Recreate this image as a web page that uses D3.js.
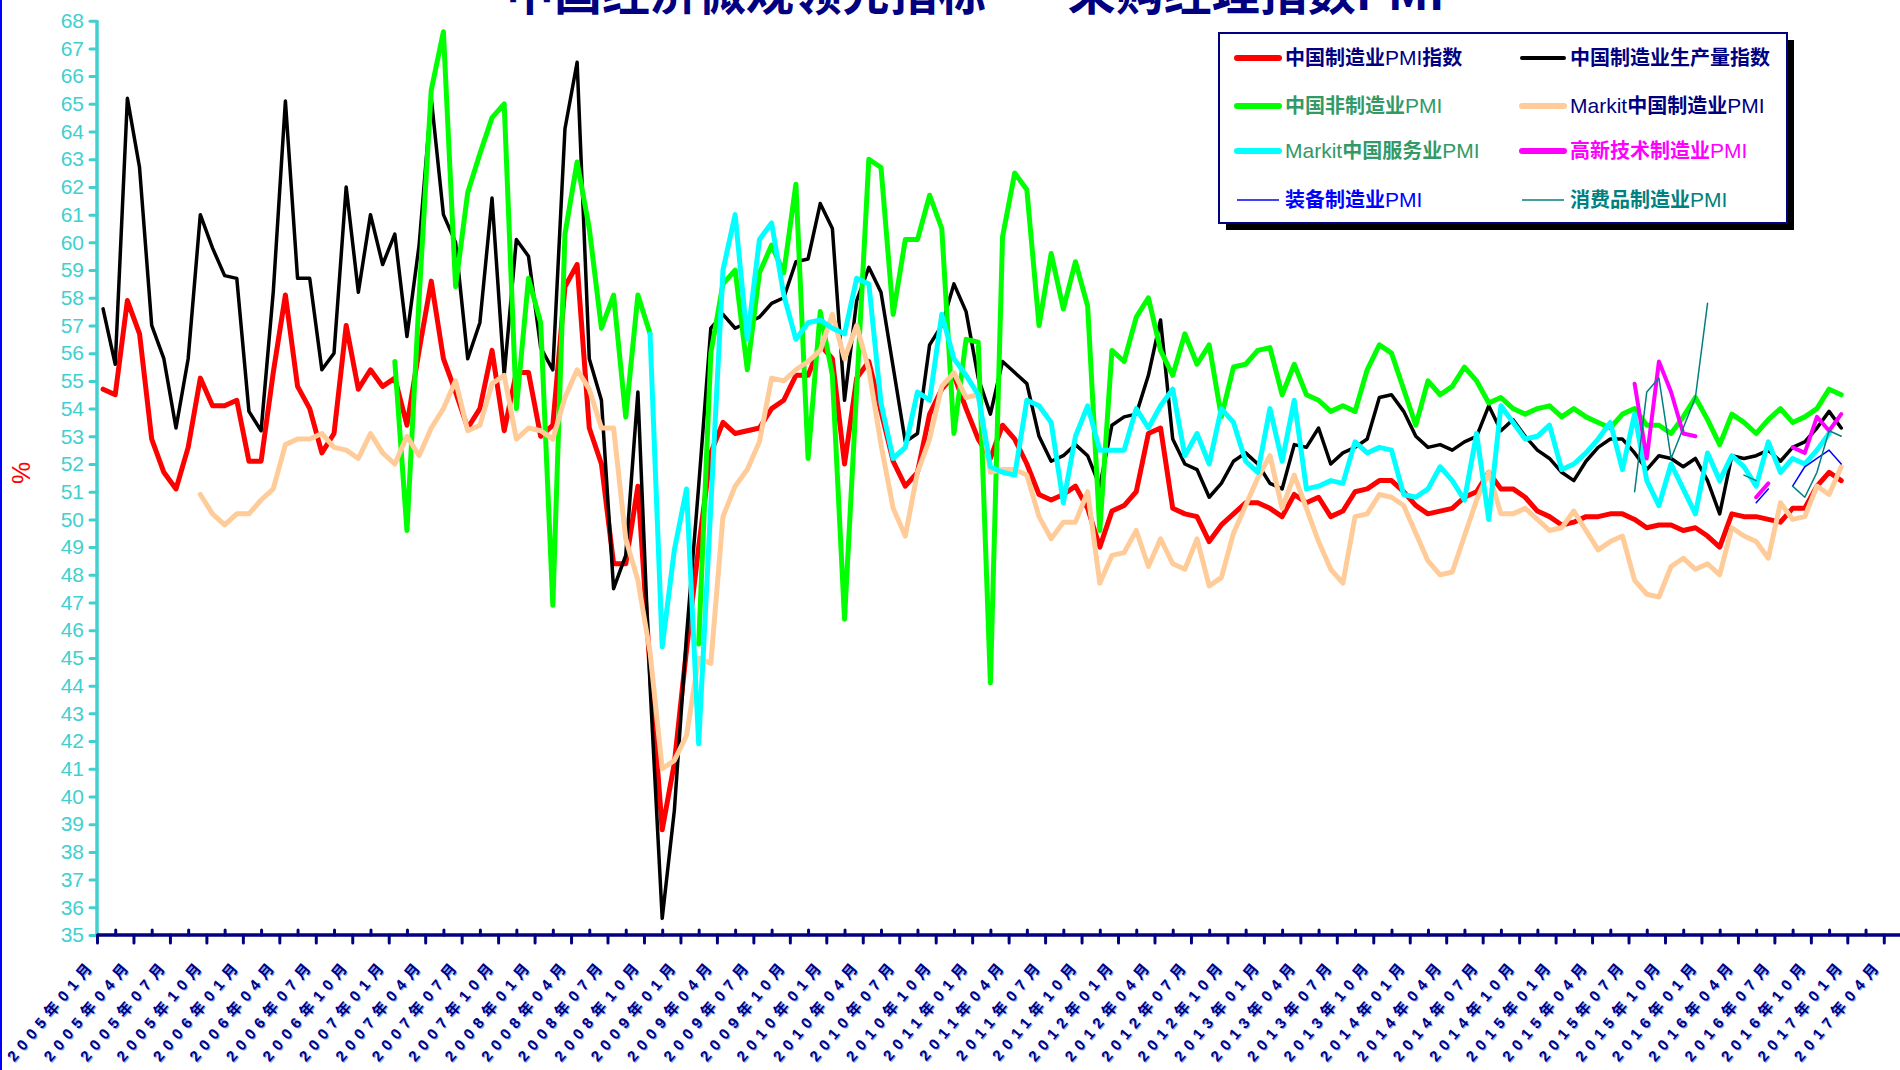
<!DOCTYPE html>
<html>
<head>
<meta charset="utf-8">
<script src="https://cdn.jsdelivr.net/npm/d3@7"></script>
<style>
  body { margin: 0; background: #fff; }
  svg { display: block; }
</style>
</head>
<body>
<svg id="chart" width="1900" height="1070"></svg>
<script>
// months on the category axis: 2005-01 .. 2017-04
const years = d3.range(2005, 2018);
const months = [];
years.forEach(y => d3.range(1, 13).forEach(m => {
  if (y < 2017 || m <= 4) months.push(y + "年" + (m < 10 ? "0" + m : m) + "月");
}));

// 中国制造业PMI指数 (from 2005-01)
const mfgPmi = [
  54.7, 54.5, 57.9, 56.7, 52.9, 51.7, 51.1, 52.6, 55.1, 54.1, 54.1, 54.3,
  52.1, 52.1, 55.3, 58.1, 54.8, 54.0, 52.4, 53.1, 57.0, 54.7, 55.4, 54.8,
  55.1, 53.4, 56.1, 58.6, 55.8, 54.6, 53.3, 54.0, 56.1, 53.2, 55.3, 55.3,
  53.0, 53.4, 58.4, 59.2, 53.3, 52.0, 48.4, 48.4, 51.2, 44.6, 38.8, 41.2,
  45.3, 49.0, 52.4, 53.5, 53.1, 53.2, 53.3, 54.0, 54.3, 55.2, 55.2, 56.3,
  55.8, 52.0, 55.1, 55.7, 53.9, 52.1, 51.2, 51.7, 53.8, 54.7, 55.2, 54.0,
  52.9, 52.2, 53.4, 52.9, 52.0, 50.9, 50.7, 50.9, 51.2, 50.4, 49.0, 50.3,
  50.5, 51.0, 53.1, 53.3, 50.4, 50.2, 50.1, 49.2, 49.8, 50.2, 50.6, 50.6,
  50.4, 50.1, 50.9, 50.6, 50.8, 50.1, 50.3, 51.0, 51.1, 51.4, 51.4, 51.0,
  50.5, 50.2, 50.3, 50.4, 50.8, 51.0, 51.7, 51.1, 51.1, 50.8, 50.3, 50.1,
  49.8, 49.9, 50.1, 50.1, 50.2, 50.2, 50.0, 49.7, 49.8, 49.8, 49.6, 49.7,
  49.4, 49.0, 50.2, 50.1, 50.1, 50.0, 49.9, 50.4, 50.4, 51.2, 51.7, 51.4
];

// 中国制造业生产量指数 (from 2005-01)
const mfgOutput = [
  57.6, 55.6, 65.2, 62.7, 57.0, 55.8, 53.3, 55.8, 61.0, 59.8, 58.8, 58.7,
  53.9, 53.2, 58.2, 65.1, 58.7, 58.7, 55.4, 56.0, 62.0, 58.2, 61.0, 59.2,
  60.3, 56.6, 59.9, 65.2, 61.0, 60.0, 55.8, 57.1, 61.6, 55.2, 60.1, 59.5,
  56.2, 55.4, 64.1, 66.5, 55.8, 54.3, 47.5, 48.7, 54.6, 44.0, 35.6, 39.5,
  45.8, 51.2, 56.9, 57.4, 56.9, 57.1, 57.3, 57.8, 58.0, 59.3, 59.4, 61.4,
  60.5, 54.3, 57.9, 59.1, 58.2, 55.5, 52.8, 53.1, 56.3, 57.0, 58.5, 57.5,
  55.1, 53.8, 55.7, 55.3, 54.9, 53.0, 52.1, 52.3, 52.7, 52.3, 51.2, 53.4,
  53.7, 53.8, 55.2, 57.2, 52.9, 52.0, 51.8, 50.8, 51.3, 52.1, 52.4, 52.0,
  51.3, 51.1, 52.7, 52.6, 53.3, 52.0, 52.4, 52.6, 52.9, 54.4, 54.5, 53.9,
  53.0, 52.6, 52.7, 52.5, 52.8, 53.0, 54.1, 53.2, 53.6, 53.0, 52.5, 52.2,
  51.7, 51.4, 52.1, 52.6, 52.9, 52.9, 52.4, 51.8, 52.3, 52.2, 51.9, 52.2,
  51.4, 50.2, 52.3, 52.2, 52.3, 52.5, 52.1, 52.6, 52.8, 53.3, 53.9, 53.3
];

// 中国非制造业PMI (from 2007-01)
const nonMfgStart = 24;
const nonMfgPmi = [
  55.7, 49.6, 58.0, 65.5, 67.6, 58.4, 61.8, 63.2, 64.5, 65.0, 54.0, 58.7,
  57.1, 46.9, 60.3, 62.9, 60.5, 56.9, 58.1, 53.7, 58.1, 56.7, null, null,
  null, 45.5, 56.0, 58.5, 59.0, 55.4, 58.9, 59.9, 58.9, 62.1, 52.2, 57.5,
  55.2, 46.4, 54.7, 63.0, 62.7, 57.4, 60.1, 60.1, 61.7, 60.5, 53.1, 56.5,
  56.4, 44.1, 60.2, 62.5, 61.9, 57.0, 59.6, 57.6, 59.3, 57.7, 49.6, 56.1,
  55.7, 57.3, 58.0, 56.1, 55.2, 56.7, 55.6, 56.3, 53.7, 55.5, 55.6, 56.1,
  56.2, 54.5, 55.6, 54.5, 54.3, 53.9, 54.1, 53.9, 55.4, 56.3, 56.0, 54.7,
  53.4, 55.0, 54.5, 54.8, 55.5, 55.0, 54.2, 54.4, 54.0, 53.8, 54.0, 54.1,
  53.7, 54.0, 53.7, 53.5, 53.3, 53.8, 54.0, 53.4, 53.4, 53.1, 53.7, 54.4,
  53.6, 52.7, 53.8, 53.5, 53.1, 53.6, 54.0, 53.5, 53.7, 54.0, 54.7, 54.5
];

// Markit中国制造业PMI (from 2005-09)
const markitMfgStart = 8;
const markitMfgPmi = [
  50.9, 50.2, 49.8, 50.2,
  50.2, 50.7, 51.1, 52.7, 52.9, 52.9, 53.1, 52.6, 52.5, 52.2, 53.1, 52.4,
  52.0, 53.0, 52.3, 53.3, 54.0, 55.0, 53.2, 53.4, 54.9, 55.2, 52.9, 53.3,
  53.2, 52.9, 54.4, 55.4, 54.7, 53.3, 53.3, 49.3, 47.8, 45.2, 41.0, 41.3,
  42.2, 45.0, 44.8, 50.1, 51.2, 51.8, 52.8, 55.1, 55.0, 55.4, 55.7, 56.1,
  57.4, 55.8, 57.0, 55.4, 52.7, 50.4, 49.4, 51.7, 52.9, 54.8, 55.3, 54.4,
  54.5, 51.7, 51.8, 51.8, 51.6, 50.1, 49.3, 49.9, 49.9, 51.0, 47.7, 48.7,
  48.8, 49.6, 48.3, 49.3, 48.4, 48.2, 49.3, 47.6, 47.9, 49.5, 50.5, 51.5,
  52.3, 50.4, 51.6, 50.4, 49.2, 48.2, 47.7, 50.1, 50.2, 50.9, 50.8, 50.5,
  49.5, 48.5, 48.0, 48.1, 49.4, 50.7, 51.7, 50.2, 50.2, 50.4, 50.0, 49.6,
  49.7, 50.3, 49.6, 48.9, 49.2, 49.4, 47.8, 47.3, 47.2, 48.3, 48.6, 48.2,
  48.4, 48.0, 49.7, 49.4, 49.2, 48.6, 50.6, 50.0, 50.1, 51.2, 50.9, 51.9
];

// Markit中国服务业PMI (from 2008-10)
const markitSvcStart = 45;
const markitSvcPmi = [
  56.7, 45.4, 48.9,
  51.1, 41.9, 50.5, 59.0, 61.0, 56.5, 60.1, 60.7, 58.1, 56.5, 57.1, 57.2,
  56.9, 56.7, 58.7, 58.5, 54.2, 52.2, 52.6, 54.6, 54.3, 57.4, 55.8, 55.2,
  54.5, 51.9, 51.7, 51.6, 54.3, 54.1, 53.5, 50.6, 53.0, 54.1, 52.5, 52.5,
  52.5, 54.0, 53.3, 54.1, 54.7, 52.3, 53.1, 52.0, 54.0, 53.5, 52.1, 51.7,
  54.0, 52.1, 54.3, 51.1, 51.2, 51.4, 51.3, 52.8, 52.4, 52.6, 52.5, 50.9,
  50.8, 51.1, 51.9, 51.4, 50.7, 53.1, 50.0, 54.1, 53.5, 52.9, 53.0, 53.4,
  51.8, 52.0, 52.4, 52.9, 53.5, 51.8, 53.8, 51.4, 50.5, 52.0, 51.1, 50.2,
  52.4, 51.4, 52.3, 51.9, 51.2, 52.8, 51.7, 52.2, 52.0, 52.5, 53.1
];

// 高新技术制造业PMI / 装备制造业PMI / 消费品制造业PMI
const highTechStart = 126;
const highTechPmi = [54.9, 52.2, 55.7, 54.6, 53.1, 53.0, null, null, null, null, 50.8, 51.3, null, 52.6, 52.4, 53.7, 53.2, 53.8];
const equipStart = 136;
const equipPmi = [50.6, 51.1, null, 51.2, 51.9, 52.2, 52.5, 52.0];
const consumerStart = 126;
const consumerPmi = [51.0, 54.6, 55.1, 52.2, 53.3, 54.4, 57.8, null, null, 51.6, 51.4, null, null, 51.2, 50.8, 51.7, 53.2, 53.0];

const yTicks = d3.range(35, 69);
const tickMonths = d3.range(0, months.length, 3);

const seriesList = [
  {name: "中国制造业PMI指数", start: 0, values: mfgPmi, color: "#ff0000", width: 5},
  {name: "中国制造业生产量指数", start: 0, values: mfgOutput, color: "#000000", width: 3.5},
  {name: "中国非制造业PMI", start: nonMfgStart, values: nonMfgPmi, color: "#00ff00", width: 5},
  {name: "Markit中国制造业PMI", start: markitMfgStart, values: markitMfgPmi, color: "#ffcc99", width: 5},
  {name: "Markit中国服务业PMI", start: markitSvcStart, values: markitSvcPmi, color: "#00ffff", width: 5},
  {name: "高新技术制造业PMI", start: highTechStart, values: highTechPmi, color: "#ff00ff", width: 4},
  {name: "装备制造业PMI", start: equipStart, values: equipPmi, color: "#0000ff", width: 1.5},
  {name: "消费品制造业PMI", start: consumerStart, values: consumerPmi, color: "#008080", width: 1.5}
];

const cjk = "'Liberation Sans', 'Noto Sans CJK SC', sans-serif";
const narrow = "'Liberation Sans Narrow', 'Arial Narrow', 'Liberation Sans', sans-serif";
const navy = "#000080";
const teal = "#40d0d0";

const svg = d3.select("#chart");
svg.append("rect").attr("width", 1900).attr("height", 1070).attr("fill", "#fff");
svg.append("line").attr("x1", 1).attr("x2", 1).attr("y1", 0).attr("y2", 1070)
  .attr("stroke", "#0000ff").attr("stroke-width", 2);

const x = d3.scaleLinear().domain([0, months.length]).range([97, 97 + months.length * 12.155]);
const y = d3.scaleLinear().domain([35, 68]).range([935, 20.7]);

// title (partly above the picture, as in the original)
svg.append("text")
  .attr("x", 506).attr("y", 10)
  .attr("font-family", "'Noto Sans CJK SC', sans-serif")
  .attr("font-weight", 700).attr("font-size", 48)
  .attr("fill", navy)
  .text("中国经济微观领先指标——采购经理指数PMI");

// y axis
const yAxis = svg.append("g")
  .attr("transform", "translate(97,0)")
  .call(d3.axisLeft(y).tickValues(yTicks).tickSize(7).tickPadding(6));
yAxis.select(".domain").attr("stroke", teal).attr("stroke-width", 3.5).attr("d", "M0," + y(35) + "V" + y(68));
yAxis.selectAll(".tick line").attr("stroke", teal).attr("stroke-width", 3).attr("stroke-linecap", "round");
yAxis.selectAll(".tick text")
  .attr("fill", teal).attr("font-size", 21).attr("font-family", narrow);

svg.append("text")
  .attr("transform", "translate(30,473) rotate(-90)")
  .attr("text-anchor", "middle")
  .attr("font-family", "'Liberation Sans', sans-serif")
  .attr("font-size", 25).attr("fill", "#ff0000")
  .text("%");

// x axis
const xAxis = svg.append("g")
  .attr("transform", "translate(0," + y(35) + ")")
  .call(d3.axisBottom(x).tickValues(tickMonths).tickSize(8).tickFormat(i => months[i]));
xAxis.select(".domain").attr("stroke", navy).attr("stroke-width", 3.5).attr("d", "M97,0H1900");
xAxis.selectAll(".tick line").attr("stroke", navy).attr("stroke-width", 3).attr("stroke-linecap", "round");
xAxis.selectAll(".tick text").each(function() {
  const t = d3.select(this);
  const label = t.text();
  const g = d3.select(this.parentNode);
  // light fringe behind each label
  g.insert("text", "text")
    .attr("fill", "#7fa8ff")
    .attr("font-family", cjk).attr("font-weight", 700).attr("font-size", 15)
    .attr("letter-spacing", 6).attr("text-anchor", "end")
    .attr("dy", "0.35em")
    .attr("transform", "translate(-4,27) rotate(-50)")
    .text(label);
  t.attr("fill", navy)
    .attr("font-family", cjk).attr("font-weight", 700).attr("font-size", 15)
    .attr("letter-spacing", 6)
    .attr("text-anchor", "end")
    .attr("y", 0).attr("dy", "0.35em")
    .attr("transform", "translate(-5,26) rotate(-50)");
});

const xUp = svg.append("g")
  .attr("transform", "translate(0," + y(35) + ")")
  .call(d3.axisTop(x).tickValues(tickMonths.map(i => i + 1.5)).tickSize(5).tickFormat(""));
xUp.select(".domain").remove();
xUp.selectAll(".tick line").attr("stroke", navy).attr("stroke-width", 3).attr("stroke-linecap", "round");

// series lines
const line = d3.line()
  .defined(d => d.v != null)
  .x(d => x(d.i + 0.5))
  .y(d => y(d.v));

seriesList.forEach(s => {
  const pts = s.values.map((v, k) => ({i: s.start + k, v: v}));
  svg.append("path")
    .datum(pts)
    .attr("fill", "none")
    .attr("stroke", s.color)
    .attr("stroke-width", s.width)
    .attr("stroke-linejoin", "round")
    .attr("stroke-linecap", "round")
    .attr("d", line);
});

// legend
const legend = svg.append("g");
legend.append("rect").attr("x", 1226).attr("y", 40).attr("width", 568).attr("height", 190).attr("fill", "#000");
legend.append("rect").attr("x", 1219).attr("y", 33).attr("width", 568).attr("height", 190)
  .attr("fill", "#fff").attr("stroke", navy).attr("stroke-width", 2);

const legendItems = [
  {col: 0, row: 0, color: "#ff0000", w: 6, parts: [["中国制造业", 1, navy], ["PMI", 0, navy], ["指数", 1, navy]]},
  {col: 1, row: 0, color: "#000000", w: 4, parts: [["中国制造业生产量指数", 1, navy]]},
  {col: 0, row: 1, color: "#00ff00", w: 6, parts: [["中国非制造业", 1, "#339966"], ["PMI", 0, "#339966"]]},
  {col: 1, row: 1, color: "#ffcc99", w: 6, parts: [["Markit", 0, navy], ["中国制造业", 1, navy], ["PMI", 0, navy]]},
  {col: 0, row: 2, color: "#00ffff", w: 6, parts: [["Markit", 0, "#339966"], ["中国服务业", 1, "#339966"], ["PMI", 0, "#339966"]]},
  {col: 1, row: 2, color: "#ff00ff", w: 6, parts: [["高新技术制造业", 1, "#ff00ff"], ["PMI", 0, "#ff00ff"]]},
  {col: 0, row: 3, color: "#0000ff", w: 1.5, parts: [["装备制造业", 1, "#0000ff"], ["PMI", 0, "#0000ff"]]},
  {col: 1, row: 3, color: "#008080", w: 1.5, parts: [["消费品制造业", 1, "#008080"], ["PMI", 0, "#008080"]]}
];
const rowY = [58, 106, 151, 200];
const colX = [1237, 1522];

legendItems.forEach(it => {
  const lx = colX[it.col], ly = rowY[it.row];
  legend.append("line")
    .attr("x1", lx).attr("x2", lx + 42).attr("y1", ly).attr("y2", ly)
    .attr("stroke", it.color).attr("stroke-width", it.w).attr("stroke-linecap", it.w > 2 ? "round" : "butt");
  const t = legend.append("text").attr("x", lx + 48).attr("y", ly + 7);
  it.parts.forEach(p => {
    t.append("tspan")
      .attr("font-family", p[1] ? "'Noto Sans CJK SC', sans-serif" : narrow)
      .attr("font-weight", p[1] ? 700 : 400)
      .attr("font-size", p[1] ? 20 : 21)
      .attr("fill", p[2])
      .text(p[0]);
  });
});
</script>
</body>
</html>
